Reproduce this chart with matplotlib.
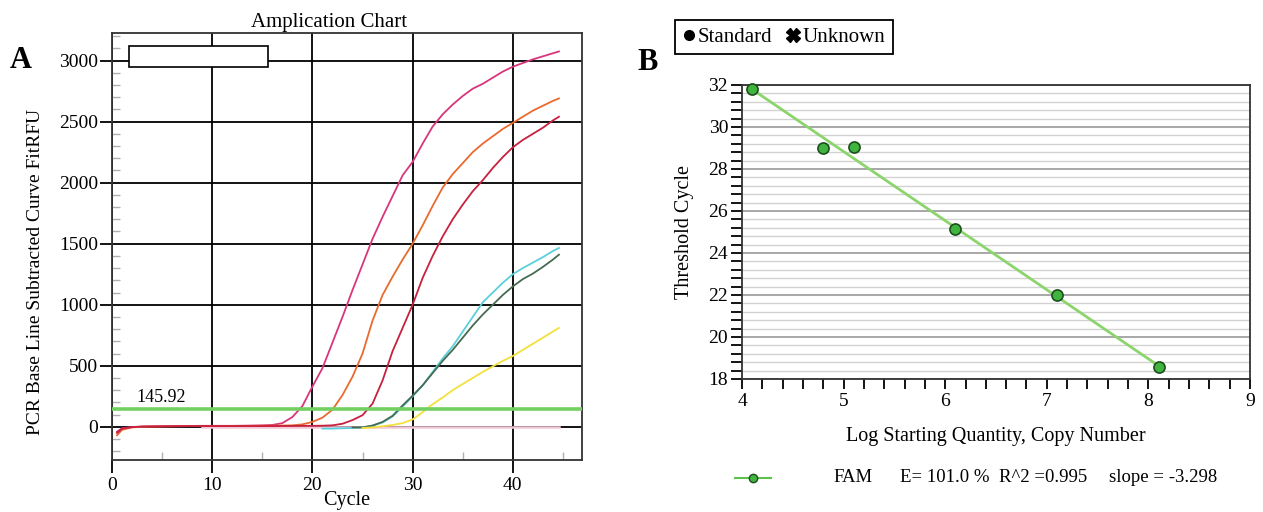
import numpy as np
import matplotlib.pyplot as plt
from matplotlib.lines import Line2D
from matplotlib.patches import Rectangle
from matplotlib.ticker import MultipleLocator

plt.rcParams['font.family'] = ['Liberation Serif', 'DejaVu Serif']

# ---- Panel A: amplification curves (RFU per cycle) ----
cycles = [0.5] + list(range(1, 45)) + [44.6]

pink = [-40, -12, -2, 2, 3, 4, 5, 6, 7, 8, 8, 8, 8, 9, 10, 12, 15, 30, 80, 170,
        330, 480, 690, 900, 1120, 1330, 1540, 1720, 1890, 2060, 2170, 2320, 2460,
        2560, 2640, 2710, 2770, 2810, 2860, 2910, 2950, 2980, 3010, 3035, 3060, 3075]
orange = [-70, -25, -5, 0, 2, 3, 4, 5, 6, 6, 6, 6, 7, 7, 8, 8, 9, 10, 12, 20,
          40, 75, 140, 260, 410, 600, 870, 1080, 1230, 1370, 1500, 1650, 1810,
          1960, 2070, 2160, 2250, 2320, 2380, 2440, 2490, 2540, 2590, 2630, 2670, 2690]
red = [-50, -15, -3, 2, 3, 4, 5, 5, 6, 6, 6, 6, 6, 6, 6, 6, 6, 7, 7, 8,
       8, 9, 12, 25, 55, 95, 190, 380, 620, 810, 1000, 1220, 1400, 1560, 1700,
       1820, 1930, 2020, 2120, 2210, 2290, 2350, 2400, 2450, 2510, 2540]
cyan = [-15, -15, -12, -10, -5, 10, 35, 85, 165, 250, 340, 450, 560, 660, 780,
        900, 1020, 1100, 1180, 1250, 1300, 1345, 1390, 1440, 1465]
dkgreen = [-5, -5, 10, 40, 90, 175, 255, 340, 440, 540, 630, 730, 830, 920,
           1000, 1080, 1150, 1210, 1255, 1310, 1370, 1410]
yellow = [-10, -5, 5, 15, 30, 60, 120, 185, 240, 300, 350, 400, 450, 495, 540,
          580, 630, 680, 730, 780, 810]
ntc = [0, 0, 0, 0, 0, 0, 0, 0, 0, 0, 0, 0, 0, 0, 0, 0, 0, 0, 0, 0, 0, 0, 0, 0,
       0, 0, 0, 0, 0, 0, 0, 0, 0, 0, 0, 0, 0]
threshold = 145.92

# ---- Panel B: standard curve ----
log_qty = [4.1, 4.8, 5.1, 6.1, 7.1, 8.1]
ct = [31.8, 29.0, 29.05, 25.15, 22.0, 18.55]
fit_stats = ['FAM', 'E= 101.0 %', 'R^2 =0.995', 'slope = -3.298']

W, H = 1263, 512
fig = plt.figure(figsize=(W / 100, H / 100), dpi=100)

# Panel A
ax1 = fig.add_axes([112 / W, 1 - 460 / H, 470 / W, 427 / H])
ax1.set_xlim(0, 46.9)
ax1.set_ylim(-272, 3226)
ax1.set_xticks([0, 10, 20, 30, 40])
ax1.set_yticks(range(0, 3001, 500))
ax1.xaxis.set_minor_locator(MultipleLocator(5))
ax1.yaxis.set_minor_locator(MultipleLocator(100))
ax1.grid(True, which='major', color='black', lw=1.3, zorder=1)
ax1.set_axisbelow(True)
ax1.tick_params(which='major', direction='out', length=9, width=1.3, labelsize=14)
ax1.tick_params(axis='y', which='major', pad=1)
ax1.tick_params(axis='x', which='major', pad=3)
ax1.tick_params(which='minor', direction='in', length=6, width=1, color='#b0b0b0')
for s in ax1.spines.values():
    s.set_color('#333333')
    s.set_linewidth(1.3)

ax1.plot(cycles[-len(ntc):], ntc, color='#f2c8d6', lw=1.8, zorder=2)
series = [(pink, '#d8357a'), (orange, '#ea6a2e'), (red, '#c8203f'),
          (cyan, '#5ccfdc'), (dkgreen, '#466b52'), (yellow, '#f2e13c')]
for vals, col in series:
    ax1.plot(cycles[-len(vals):], vals, color=col, lw=1.3, zorder=3)
ax1.axhline(threshold, color='#74cf62', lw=2.6, zorder=4)
ax1.text(2.4, 240, f'{threshold:.2f}', fontsize=13, va='center', ha='left',
         bbox=dict(facecolor='white', edgecolor='none', pad=0.5), zorder=5)
ax1.add_patch(Rectangle((1.7, 2950), 13.9, 170, facecolor='white',
                        edgecolor='black', lw=1.2, zorder=5))
ax1.set_title('Amplication Chart', fontsize=15, x=(329 - 112) / 470, pad=4)
ax1.set_xlabel('Cycle', fontsize=14.5, labelpad=-2)
ax1.set_ylabel('PCR Base Line Subtracted Curve FitRFU', fontsize=14)
ax1.yaxis.set_label_coords((44 - 112) / 470, (460 - 272) / 427)

# Panel B
ax2 = fig.add_axes([742 / W, 1 - 379 / H, 508 / W, 294 / H])
ax2.set_xlim(4, 9)
ax2.set_ylim(18, 32)
ax2.set_xticks(range(4, 10))
ax2.set_yticks(range(18, 33, 2))
ax2.xaxis.set_minor_locator(MultipleLocator(0.2))
ax2.yaxis.set_minor_locator(MultipleLocator(0.4))
ax2.yaxis.grid(True, which='minor', color='#d2d2d2', lw=1.0)
ax2.yaxis.grid(True, which='major', color='#a0a0a0', lw=1.3)
ax2.set_axisbelow(True)
ax2.tick_params(which='both', direction='out', length=8, width=1.3, labelsize=14)
ax2.tick_params(axis='y', which='major', pad=2)
ax2.tick_params(axis='x', which='major', pad=3)
ax2.tick_params(axis='x', which='both', length=7)
for s in ax2.spines.values():
    s.set_color('#333333')
    s.set_linewidth(1.3)

slope, icpt = np.polyfit(log_qty, ct, 1)
xs = np.array([min(log_qty), max(log_qty)])
ax2.plot(xs, slope * xs + icpt, color='#8cd46c', lw=2, zorder=3)
ax2.plot(log_qty, ct, ls='', marker='o', ms=8, mfc='#3fb43f', mec='#1d4f1d',
         mew=1.2, zorder=4, clip_on=False)
ax2.set_xlabel('Log Starting Quantity, Copy Number', fontsize=14.5, labelpad=12)
ax2.set_ylabel('Threshold Cycle', fontsize=14.5, labelpad=10)

leg = fig.legend(handles=[Line2D([], [], ls='', marker='o', color='black', ms=7, label='Standard'),
                          Line2D([], [], ls='', marker='X', color='black', ms=10, label='Unknown')],
                 loc='upper left', bbox_to_anchor=(675 / W, 1 - 20 / H), ncol=2,
                 frameon=True, fancybox=False, edgecolor='black', framealpha=1,
                 handlelength=0.6, handletextpad=0.15, columnspacing=0.7,
                 fontsize=15, borderpad=0.35, borderaxespad=0)
leg.get_frame().set_linewidth(1.3)

fig.legend(handles=[Line2D([], [], color='#5cc24c', lw=1.5, marker='o', ms=6,
                           mfc='#3fb43f', mec='#1d4f1d')], labels=[''],
           loc='center left', bbox_to_anchor=(722 / W, 1 - 479 / H),
           frameon=False, handlelength=2.6)
for x, t in zip([833, 900, 999, 1109], fit_stats):
    fig.text(x / W, 1 - 477 / H, t, fontsize=13.5, va='center', ha='left')

fig.text(10 / W, 1 - 60 / H, 'A', fontsize=22, fontweight='bold', va='center')
fig.text(637 / W, 1 - 62 / H, 'B', fontsize=22, fontweight='bold', va='center')

fig.savefig('out.png', dpi=100)
